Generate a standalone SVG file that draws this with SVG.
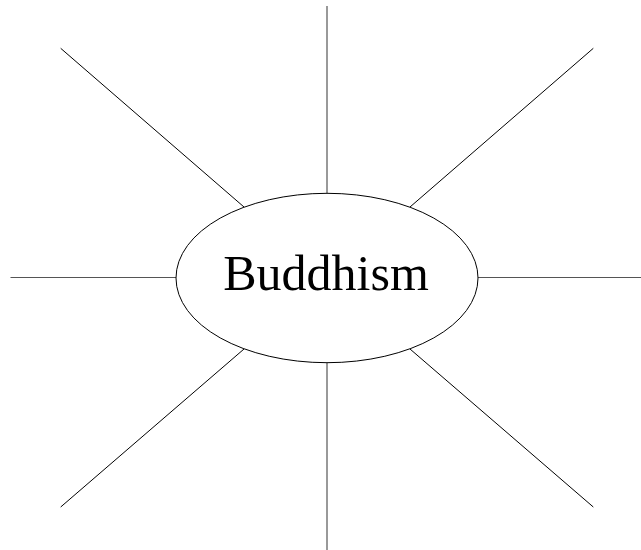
<svg xmlns="http://www.w3.org/2000/svg" width="641" height="550" viewBox="0 0 641 550">
<style>
.spoke{stroke:#000;stroke-width:1;fill:none}
.axis{stroke:#555;stroke-width:1.2;fill:none}
.node{fill:#fff;stroke:#000;stroke-width:1}
.label{font-family:"Liberation Serif",serif;font-size:50px;fill:#000;text-anchor:middle}
</style>
<rect width="641" height="550" fill="#fff"/>
<g id="connectors">
<line class="axis" x1="327" y1="6" x2="327" y2="193.5"/>
<line class="axis" x1="327" y1="362.5" x2="327" y2="550"/>
<line class="axis" x1="10.5" y1="277.5" x2="176" y2="277.5"/>
<line class="axis" x1="478" y1="277.5" x2="641" y2="277.5"/>
<line class="spoke" x1="60.7" y1="48.3" x2="244" y2="207"/>
<line class="spoke" x1="593.3" y1="48.3" x2="410" y2="207"/>
<line class="spoke" x1="60.7" y1="507" x2="244" y2="349"/>
<line class="spoke" x1="593.3" y1="507" x2="410" y2="349"/>
</g>
<g id="buddhism">
<ellipse class="node" cx="327" cy="278" rx="151" ry="84.7"/>
<text class="label" x="326" y="289.5">Buddhism</text>
</g>
</svg>
